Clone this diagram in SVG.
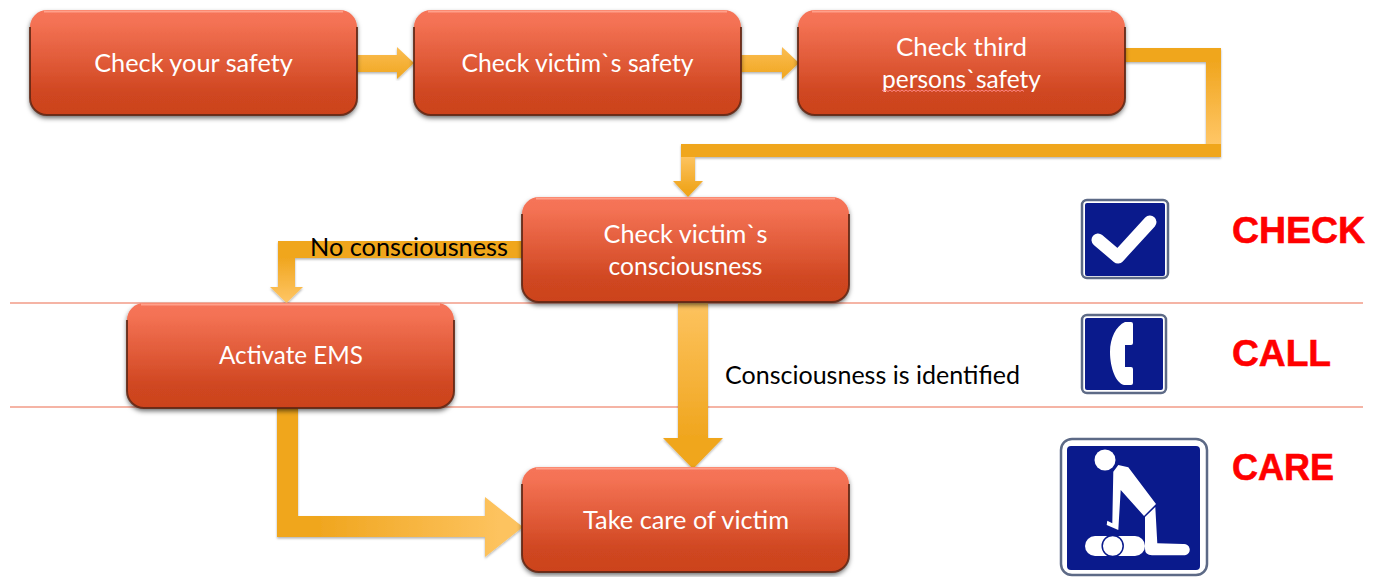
<svg xmlns="http://www.w3.org/2000/svg" width="1383" height="577" viewBox="0 0 1383 577">
<style>
.bt{font-family:Lato,"Noto Sans","Liberation Sans",sans-serif;font-size:25.3px;fill:#fff;text-anchor:middle}
.lb{font-family:Lato,"Noto Sans","Liberation Sans",sans-serif;font-size:25.3px;fill:#000}
.hd{font-family:"Liberation Sans",Arial,sans-serif;font-weight:700;font-size:37px;fill:#f00;stroke:#f00;stroke-width:.6}
.bx{fill:url(#bf);filter:url(#sh)}
.ed{fill:none;stroke:#5e2412;stroke-width:2;stroke-opacity:.85}
.hl{fill:none;stroke:#ffa08a;stroke-width:2}
.sep{stroke:#ec6a4c;stroke-width:1.2}
.sign{fill:#0a1a8c}
.fr{fill:#fff;stroke:#5d6a86;stroke-width:2.500}
.w{fill:#fff}
</style>
<defs>
<linearGradient id="bf" x1="0" y1="0" x2="0" y2="1"><stop offset="0" stop-color="#f6745a"/><stop offset=".12" stop-color="#f47254"/><stop offset=".8" stop-color="#cf4620"/><stop offset="1" stop-color="#cc431e"/></linearGradient>
<linearGradient id="down" x1="0" y1="0" x2="0" y2="1"><stop offset="0" stop-color="#fdc35f"/><stop offset=".8" stop-color="#f0a61f"/></linearGradient>
<linearGradient id="downs" x1="0" y1="0" x2="0" y2="1"><stop offset="0" stop-color="#f0a61f"/><stop offset="1" stop-color="#ffc666"/></linearGradient>
<linearGradient id="sm" x1="0" y1="0" x2="0" y2="1"><stop offset="0" stop-color="#fbbd52"/><stop offset="1" stop-color="#f0a61f"/></linearGradient>
<linearGradient id="rt" gradientUnits="userSpaceOnUse" x1="320" y1="0" x2="500" y2="0"><stop offset="0" stop-color="#f0a61f"/><stop offset="1" stop-color="#fdc35f"/></linearGradient>
<filter id="sh" x="-5%" y="-10%" width="110%" height="125%"><feDropShadow dx="0" dy="3" stdDeviation="2.500" flood-color="#000" flood-opacity=".6"/></filter>
<filter id="cs" x="-5%" y="-5%" width="110%" height="110%"><feDropShadow dx="0" dy="1.500" stdDeviation="1.200" flood-color="#000" flood-opacity=".3"/></filter>
</defs>

<g id="separators">
<line class="sep" x1="10" y1="303" x2="1363" y2="303"/>
<line class="sep" x1="10" y1="407" x2="1363" y2="407"/>
</g>

<g id="connectors">
<polygon filter="url(#cs)" fill="url(#sm)" points="357,55 397,55 397,47 414,63 397,79 397,72 357,72"/>
<polygon filter="url(#cs)" fill="url(#sm)" points="741,55 782,55 782,47 799,63 782,79 782,72 741,72"/>
<g filter="url(#cs)">
<rect x="1125" y="48" width="96" height="14" fill="#f0a61f"/>
<rect x="1206" y="62" width="15" height="82" fill="url(#downs)"/>
<rect x="681" y="144" width="540" height="13" fill="#f0a61f"/>
<polygon fill="url(#down)" points="681,157 695,157 695,181 703,181 688,197 673,181 681,181"/>
</g>
<g filter="url(#cs)">
<path d="M523,241H278V258H523Z" fill="#f0a61f"/>
<polygon fill="url(#downs)" points="278,258 295,258 295,287 303,287 286.500,303 270,287 278,287"/>
</g>
<polygon filter="url(#cs)" fill="url(#down)" points="678,303 708,303 708,438 723,438 693,469 663,438 678,438"/>
<g filter="url(#cs)">
<polygon fill="url(#rt)" points="277,408 298,408 298,516 485,516 485,497 523,527 485,557 485,537 277,537"/>
</g>
</g>

<g id="node-check-your-safety">
<rect class="bx" x="30" y="10" width="327" height="105" rx="17"/>
<path class="ed" d="M30,27V98a17,17 0 0 0 17,17H340a17,17 0 0 0 17,-17V27"/>
<path class="hl" d="M44,11.500H343"/>
<text class="bt" x="193.500" y="72">Check your safety</text>
</g>
<g id="node-check-victim-safety">
<rect class="bx" x="414" y="10" width="327" height="105" rx="17"/>
<path class="ed" d="M414,27V98a17,17 0 0 0 17,17H724a17,17 0 0 0 17,-17V27"/>
<path class="hl" d="M428,11.500H727"/>
<text class="bt" x="577.500" y="72" textLength="232" lengthAdjust="spacingAndGlyphs">Check victim`s safety</text>
</g>
<g id="node-check-third-persons-safety">
<rect class="bx" x="798" y="10" width="327" height="105" rx="17"/>
<path class="ed" d="M798,27V98a17,17 0 0 0 17,17H1108a17,17 0 0 0 17,-17V27"/>
<path class="hl" d="M812,11.500H1111"/>
<text class="bt" x="961.500" y="56" textLength="131" lengthAdjust="spacingAndGlyphs">Check third</text>
<text class="bt" x="961.500" y="88" textLength="159" lengthAdjust="spacingAndGlyphs">persons`safety</text>
<path fill="none" stroke="#ff8a8a" stroke-width="1" d="M882,90l2,1.500l2,-1.500l2,1.500l2,-1.500l2,1.500l2,-1.500l2,1.500l2,-1.500l2,1.500l2,-1.500l2,1.500l2,-1.500l2,1.500l2,-1.500l2,1.500l2,-1.500l2,1.500l2,-1.500l2,1.500l2,-1.500l2,1.500l2,-1.500l2,1.500l2,-1.500l2,1.500l2,-1.500l2,1.500l2,-1.500l2,1.500l2,-1.500l2,1.500l2,-1.500l2,1.500l2,-1.500l2,1.500l2,-1.500l2,1.500l2,-1.500l2,1.500l2,-1.500l2,1.500l2,-1.500l2,1.500l2,-1.500l2,1.500l2,-1.500l2,1.500l2,-1.500l2,1.500l2,-1.500l2,1.500l2,-1.500l2,1.500l2,-1.500l2,1.500l2,-1.500l2,1.500l2,-1.500l2,1.500l2,-1.500l2,1.500l2,-1.500l2,1.500l2,-1.500l2,1.500l2,-1.500l2,1.500l2,-1.500l2,1.500l2,-1.500l2,1.500"/>
</g>
<g id="node-check-victim-consciousness">
<rect class="bx" x="522" y="197" width="327" height="105" rx="17"/>
<path class="ed" d="M522,214V285a17,17 0 0 0 17,17H832a17,17 0 0 0 17,-17V214"/>
<path class="hl" d="M536,198.500H835"/>
<text class="bt" x="685.500" y="243">Check victim`s</text>
<text class="bt" x="685.500" y="275" textLength="154" lengthAdjust="spacingAndGlyphs">consciousness</text>
</g>
<g id="node-activate-ems">
<rect class="bx" x="127" y="303" width="327" height="105" rx="17"/>
<path class="ed" d="M127,320V391a17,17 0 0 0 17,17H437a17,17 0 0 0 17,-17V320"/>
<path class="hl" d="M141,304.500H440"/>
<text class="bt" x="291" y="364" textLength="144" lengthAdjust="spacingAndGlyphs">Activate EMS</text>
</g>
<g id="node-take-care-of-victim">
<rect class="bx" x="522" y="467" width="327" height="105" rx="17"/>
<path class="ed" d="M522,484V555a17,17 0 0 0 17,17H832a17,17 0 0 0 17,-17V484"/>
<path class="hl" d="M536,468.500H835"/>
<text class="bt" x="686" y="529" textLength="206" lengthAdjust="spacingAndGlyphs">Take care of victim</text>
</g>

<g id="labels">
<text class="lb" x="310" y="256" textLength="198" lengthAdjust="spacingAndGlyphs">No consciousness</text>
<text class="lb" x="725" y="384" textLength="295" lengthAdjust="spacingAndGlyphs">Consciousness is identified</text>
</g>

<g id="icon-check">
<rect class="fr" x="1082" y="200" width="86" height="78" rx="5"/>
<rect class="sign" x="1085" y="203" width="80" height="73" rx="2"/>
<path d="M1098,240L1118,257L1150,222" fill="none" stroke="#fff" stroke-width="13" stroke-linecap="round" stroke-linejoin="round"/>
</g>
<g id="icon-phone">
<rect class="fr" x="1082" y="315" width="84" height="78" rx="5"/>
<rect class="sign" x="1085" y="318" width="78" height="72" rx="2"/>
<path class="w" d="M1125,322H1131q2,0 2,2V343q0,2 -2,2H1125V367H1131q2,0 2,2V383q0,2 -2,2H1124C1116,383 1110,368 1110,352C1110,338 1116,326 1125,322Z"/>
</g>
<g id="icon-care">
<rect class="fr" x="1061" y="439" width="146" height="136" rx="11"/>
<rect class="sign" x="1067" y="446" width="133" height="124" rx="4"/>
<circle class="w" cx="1105" cy="460" r="10.500"/>
<polygon class="w" points="1113.300,471.700 1118.300,465 1128.300,467.300 1156,504 1144,516 1120.700,490 1118.300,530 1106.700,525 1107.300,520.700 1112.300,523.300"/>
<path class="w" d="M1145,517L1155.300,507L1157.300,543.300L1183,544a5.700,5.700 0 0 1 2,11.300H1152Q1145,555 1145,549Z"/>
<rect class="w" x="1085" y="536" width="60" height="20" rx="10"/>
<circle class="w" cx="1112.700" cy="546" r="10.500" stroke="#0a1a8c" stroke-width="1.500"/>
</g>

<g id="legend">
<text class="hd" x="1232" y="243" textLength="133" lengthAdjust="spacingAndGlyphs">CHECK</text>
<text class="hd" x="1232" y="366" textLength="99" lengthAdjust="spacingAndGlyphs">CALL</text>
<text class="hd" x="1232" y="480" textLength="102" lengthAdjust="spacingAndGlyphs">CARE</text>
</g>
</svg>
